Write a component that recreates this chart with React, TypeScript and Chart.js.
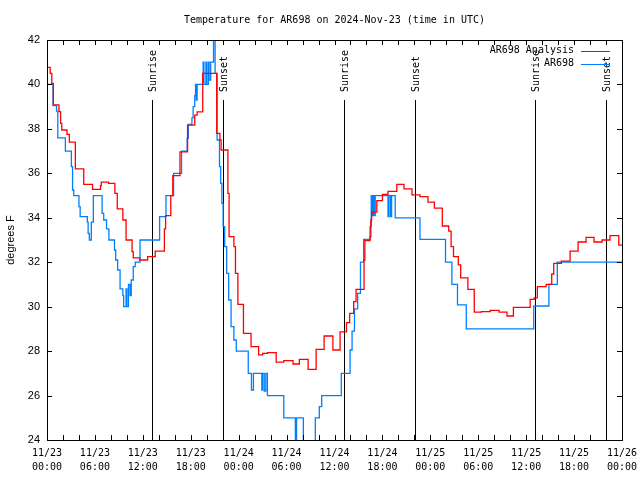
import React, { useEffect, useRef } from 'react';
import { Chart, registerables } from 'chart.js';

Chart.register(...registerables);

const chartTitle = 'Temperature for AR698 on 2024-Nov-23 (time in UTC)';
const yAxisTitle = 'degrees F';
const seriesNames = ['AR698 Analysis', 'AR698'];
const seriesColors = ['#ff0000', '#0080ff'];

// x tick labels every 6 hours from 11/23 00:00 to 11/26 00:00
const xTickLabels = [
  ['11/23', '00:00'], ['11/23', '06:00'], ['11/23', '12:00'], ['11/23', '18:00'],
  ['11/24', '00:00'], ['11/24', '06:00'], ['11/24', '12:00'], ['11/24', '18:00'],
  ['11/25', '00:00'], ['11/25', '06:00'], ['11/25', '12:00'], ['11/25', '18:00'],
  ['11/26', '00:00'],
];

// sun events, hours after 11/23 00:00 UTC
const sunHours = [13.1, 22.05, 37.15, 46.1, 61.1, 70.0];
const sunLabels = ['Sunrise', 'Sunset', 'Sunrise', 'Sunset', 'Sunrise', 'Sunset'];

// [hours after 11/23 00:00 UTC, degrees F] – value holds until next point
const analysisSeries = [
  [0, 40.77], [0.4, 40.5], [0.6, 40.05], [0.8, 39.08], [1.5, 38.78], [1.7, 38.25],
  [1.85, 37.95], [2.5, 37.75], [2.8, 37.4], [3.55, 36.2], [4.6, 35.5], [5.7, 35.28],
  [6.7, 35.45], [6.8, 35.6], [7.7, 35.55], [8.5, 35.1], [8.8, 34.4], [9.5, 33.9],
  [9.9, 33.0], [10.65, 32.48], [10.8, 32.2], [11.6, 32.1], [12.6, 32.25], [13.55, 32.5],
  [14.7, 33.5], [14.85, 34.1], [15.5, 35.0], [15.75, 35.9], [16.65, 36.97], [17.6, 38.17],
  [18.5, 38.62], [18.8, 38.77], [19.5, 40.5], [21.25, 37.8], [21.65, 37.5], [21.8, 37.05],
  [22.65, 35.1], [22.8, 33.15], [23.4, 32.7], [23.6, 31.5], [23.9, 30.1], [24.6, 28.8],
  [25.55, 28.2], [26.5, 27.83], [27.0, 27.9], [27.6, 27.93], [28.7, 27.5], [29.65, 27.57],
  [30.8, 27.42], [31.6, 27.63], [32.7, 27.18], [33.7, 28.08], [34.7, 28.68], [35.8, 28.05],
  [36.7, 28.87], [37.5, 29.28], [37.9, 29.7], [38.4, 30.23], [38.7, 30.78], [39.7, 32.1],
  [39.8, 32.97], [40.45, 33.15], [40.55, 33.9], [40.65, 34.25], [41.3, 34.77], [42.0, 35.05],
  [42.7, 35.19], [43.8, 35.5], [44.7, 35.3], [45.7, 35.03], [46.7, 34.95], [47.7, 34.7],
  [48.5, 34.43], [49.5, 33.63], [50.3, 33.4], [50.6, 32.7], [50.9, 32.25], [51.5, 31.88],
  [51.8, 31.3], [52.7, 30.78], [53.5, 29.75], [54.4, 29.78], [55.5, 29.83], [56.6, 29.75],
  [57.6, 29.58], [58.4, 29.97], [60.5, 30.33], [61.0, 30.4], [61.4, 30.9], [62.5, 31.0],
  [63.2, 31.47], [63.45, 31.95], [64.4, 32.05], [65.5, 32.5], [66.5, 32.91], [67.5, 33.12],
  [68.5, 32.91], [69.5, 33.0], [70.5, 33.2], [71.6, 32.77], [72, 32.77],
];

const observedSeries = [
  [0, 40.0], [0.75, 39.05], [1.2, 38.8], [1.35, 37.6], [2.3, 37.0], [3.05, 36.3],
  [3.2, 35.25], [3.35, 35.0], [4.0, 34.5], [4.15, 34.05], [5.05, 33.8], [5.15, 33.3],
  [5.3, 33.0], [5.55, 33.8], [5.8, 35.0], [6.9, 34.2], [7.1, 33.9], [7.45, 33.5],
  [7.75, 33.0], [8.45, 32.55], [8.6, 32.1], [8.85, 31.65], [9.15, 30.8], [9.5, 30.5],
  [9.6, 30.0], [9.9, 30.8], [10.0, 30.0], [10.2, 31.0], [10.4, 30.5], [10.55, 31.2],
  [10.8, 31.8], [11.05, 32.0], [11.65, 33.0], [14.1, 34.05], [14.9, 35.0], [15.85, 36.0],
  [16.85, 37.0], [17.55, 37.57], [17.7, 38.2], [18.15, 38.5], [18.3, 39.0], [18.5, 39.5],
  [18.6, 40.0], [18.7, 39.3], [18.8, 40.0], [19.55, 41.0], [19.65, 40.0], [19.9, 41.0],
  [20.0, 40.0], [20.2, 41.0], [20.3, 40.2], [20.5, 41.0], [20.85, 42.0], [21.05, 40.5],
  [21.3, 37.5], [21.6, 36.3], [21.75, 35.55], [21.9, 34.65], [22.05, 33.6], [22.25, 32.7],
  [22.5, 31.5], [22.75, 30.3], [23.05, 29.1], [23.4, 28.5], [23.7, 28.0], [25.2, 27.0],
  [25.6, 26.25], [25.85, 27.0], [26.9, 26.25], [27.0, 27.0], [27.2, 26.2], [27.4, 27.0],
  [27.6, 26.0], [29.65, 25.0], [31.1, 23.5], [31.25, 25.0], [32.1, 23.5], [33.6, 25.0],
  [34.1, 25.5], [34.4, 26.0], [36.85, 27.0], [37.95, 28.05], [38.2, 28.9], [38.5, 29.9],
  [38.9, 30.6], [39.25, 32.0], [39.65, 33.03], [40.45, 33.6], [40.6, 35.0], [40.75, 34.1],
  [40.85, 35.0], [41.0, 34.1], [41.1, 35.0], [42.7, 34.05], [42.8, 35.0], [43.0, 34.05],
  [43.15, 35.0], [43.6, 34.0], [46.7, 33.03], [49.9, 32.0], [50.7, 31.0], [51.4, 30.08],
  [52.5, 29.0], [60.95, 30.03], [62.85, 31.0], [63.9, 32.0], [72, 32.0],
];

const MONO = '"DejaVu Sans Mono", monospace';
const SANS = '"Liberation Sans", Arial, sans-serif';

const overlayPlugin = {
  id: 'gnuplotOverlay',
  beforeDatasetsDraw(chart: any) {
    const ctx = chart.ctx;
    const xs = chart.scales.x;
    const { top, bottom } = chart.chartArea;
    ctx.save();
    ctx.strokeStyle = '#000';
    ctx.lineWidth = 1;
    ctx.fillStyle = '#000';
    ctx.font = '10px ' + MONO;
    ctx.textAlign = 'left';
    ctx.textBaseline = 'middle';
    sunHours.forEach((h, i) => {
      const px = Math.round(xs.getPixelForValue(h)) + 0.5;
      ctx.beginPath();
      ctx.moveTo(px, top + 60);
      ctx.lineTo(px, bottom);
      ctx.stroke();
      ctx.save();
      ctx.translate(px + 1, top + 52);
      ctx.rotate(-Math.PI / 2);
      ctx.fillText(sunLabels[i], 0, 0);
      ctx.restore();
    });
    ctx.restore();
  },
  afterDatasetsDraw(chart: any) {
    const ctx = chart.ctx;
    const xs = chart.scales.x;
    const ys = chart.scales.y;
    const { left, right, top, bottom } = chart.chartArea;
    ctx.save();
    ctx.strokeStyle = '#000';
    ctx.lineWidth = 1;
    ctx.beginPath();
    xs.ticks.forEach((t: any) => {
      const px = Math.round(xs.getPixelForValue(t.value)) + 0.5;
      ctx.moveTo(px, bottom);
      ctx.lineTo(px, bottom - 5);
      ctx.moveTo(px, top);
      ctx.lineTo(px, top + 5);
    });
    ys.ticks.forEach((t: any) => {
      const py = Math.round(ys.getPixelForValue(t.value)) + 0.5;
      ctx.moveTo(left, py);
      ctx.lineTo(left + 5, py);
      ctx.moveTo(right, py);
      ctx.lineTo(right - 5, py);
    });
    ctx.stroke();
    ctx.strokeRect(Math.round(left) + 0.5, Math.round(top) + 0.5, Math.round(right - left), Math.round(bottom - top));

    // legend
    ctx.font = '10px ' + MONO;
    ctx.textAlign = 'right';
    ctx.textBaseline = 'middle';
    chart.data.datasets.forEach((ds: any, i: number) => {
      const y = top + 10.5 + i * 13;
      ctx.fillStyle = '#000';
      ctx.fillText(ds.label, right - 48, y);
      ctx.strokeStyle = ds.borderColor;
      ctx.beginPath();
      ctx.moveTo(right - 41, Math.round(y) + 0.5);
      ctx.lineTo(right - 12, Math.round(y) + 0.5);
      ctx.stroke();
    });
    ctx.restore();
  },
};

export default function App() {
  const canvasRef = useRef<HTMLCanvasElement | null>(null);

  useEffect(() => {
    if (!canvasRef.current) return;
    const toPoints = (s: number[][]) => s.map(([x, y]) => ({ x, y }));
    const chart = new Chart(canvasRef.current, {
      type: 'line',
      data: {
        datasets: [
          {
            label: seriesNames[0],
            data: toPoints(analysisSeries),
            borderColor: seriesColors[0],
            backgroundColor: seriesColors[0],
            borderWidth: 1.3,
            pointRadius: 0,
            stepped: true,
            fill: false,
            clip: 0,
          },
          {
            label: seriesNames[1],
            data: toPoints(observedSeries),
            borderColor: seriesColors[1],
            backgroundColor: seriesColors[1],
            borderWidth: 1.3,
            pointRadius: 0,
            stepped: true,
            fill: false,
            clip: 0,
          },
        ],
      },
      options: {
        responsive: false,
        animation: false,
        layout: { padding: { left: 0, right: 18, top: 0, bottom: 0 } },
        plugins: {
          legend: { display: false },
          tooltip: { enabled: false },
          title: {
            display: true,
            text: chartTitle,
            fullSize: false,
            color: '#000',
            font: { family: MONO, size: 10, weight: 'normal' },
            padding: { top: 14, bottom: 14 },
          },
        },
        scales: {
          x: {
            type: 'linear',
            min: 0,
            max: 72,
            afterBuildTicks: (scale: any) => {
              const t = [];
              for (let v = 0; v <= 72; v += 2) t.push({ value: v });
              scale.ticks = t;
            },
            afterFit: (scale: any) => {
              scale.height = 40;
              scale.paddingLeft = 0;
              scale.paddingRight = 0;
            },
            grid: { display: false, drawTicks: false },
            border: { display: false },
            ticks: {
              autoSkip: false,
              maxRotation: 0,
              padding: 7,
              color: '#000',
              font: { family: MONO, size: 10, lineHeight: 1.35 },
              callback: (value: any) => (Number(value) % 6 === 0 ? xTickLabels[Number(value) / 6] : ''),
            },
          },
          y: {
            type: 'linear',
            min: 24,
            max: 42,
            afterFit: (scale: any) => { scale.width = 47; },
            grid: { display: false, drawTicks: false },
            border: { display: false },
            ticks: {
              stepSize: 2,
              padding: 7,
              color: '#000',
              font: { family: SANS, size: 11 },
            },
            title: {
              display: true,
              text: yAxisTitle,
              color: '#000',
              font: { family: SANS, size: 11 },
              padding: { top: 4, bottom: 0 },
            },
          },
        },
      },
      plugins: [overlayPlugin],
    } as any);
    return () => chart.destroy();
  }, []);

  return (
    <div style={{ position: 'fixed', left: 0, top: 0, width: 640, height: 480, background: '#fff' }}>
      <canvas ref={canvasRef} width={640} height={480} />
    </div>
  );
}
